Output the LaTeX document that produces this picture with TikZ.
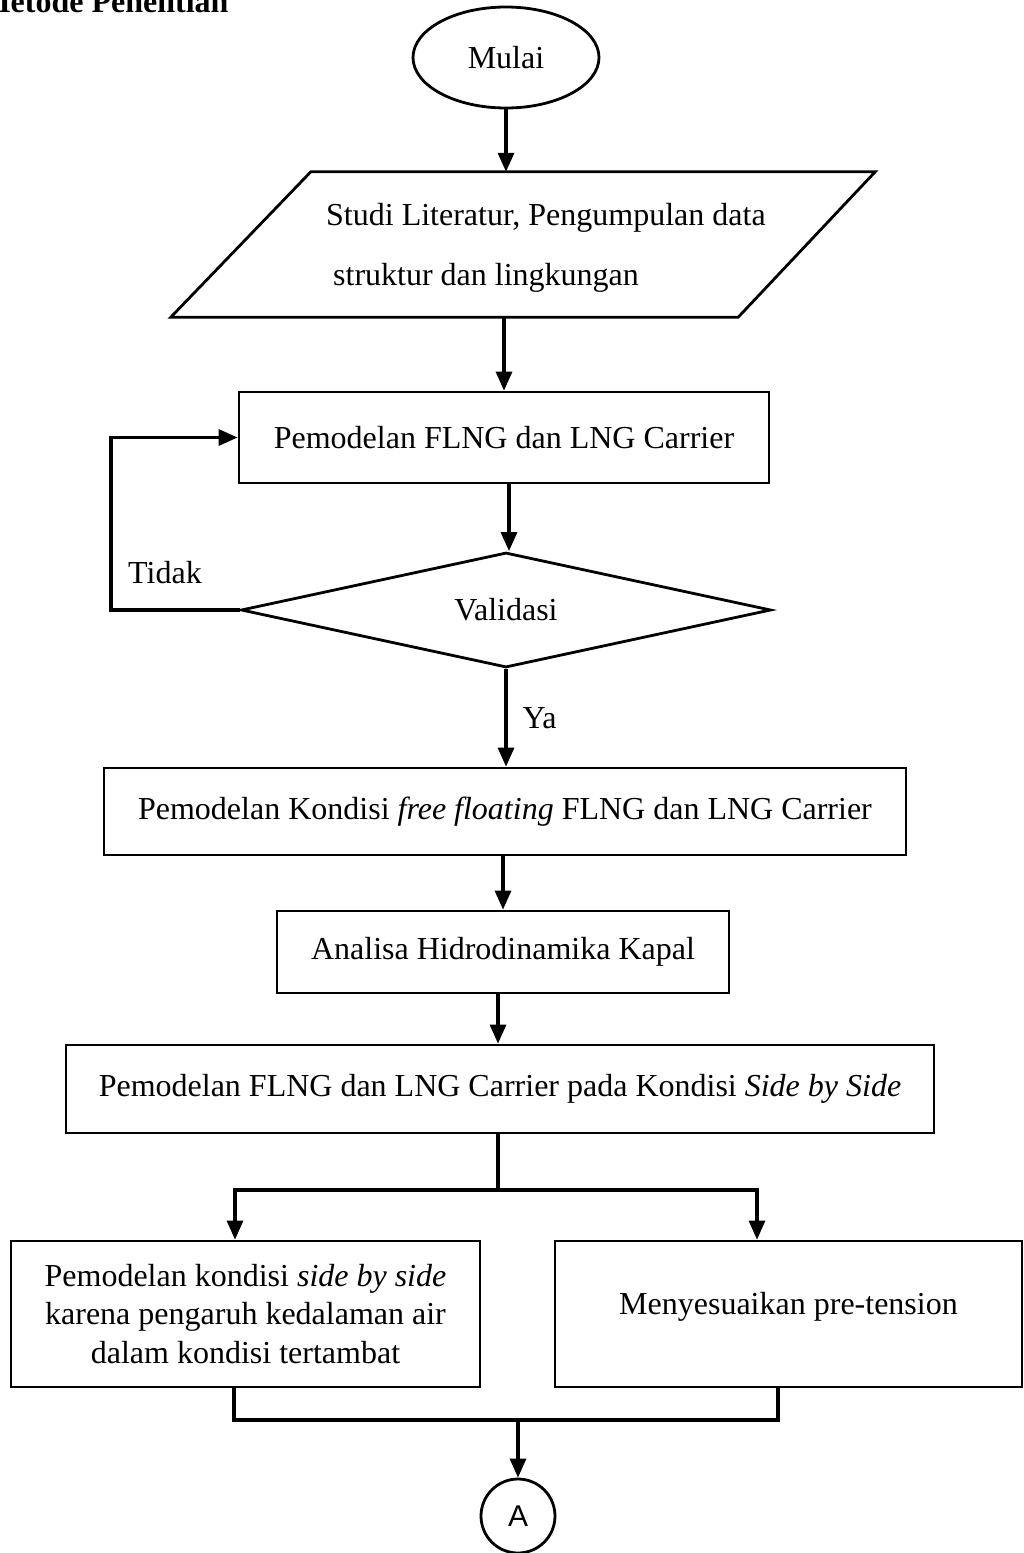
\documentclass[tikz,border=0pt]{standalone}
\usepackage{fontspec}
\setmainfont{Liberation Serif}
\newfontfamily\sansA{Liberation Sans}
\usetikzlibrary{arrows.meta,positioning,calc,shapes.geometric}

\begin{document}
\begin{tikzpicture}[font=\fontsize{32}{38.4}\selectfont, x=1pt, y=-1pt,
  >={Triangle[length=19pt, width=16pt]},
  line/.style={line width=3.2pt},
  box/.style={draw, line width=2.8pt, align=center, inner sep=2pt},
  term/.style={box, ellipse, inner sep=0pt},
  cond/.style={box, diamond, aspect=4.6, inner sep=0pt},
  lbl/.style={anchor=base}]
\useasboundingbox (0,0) rectangle (1023,1553);
\clip (0,0) rectangle (1023,1553);
\node[anchor=base east, font=\fontsize{32}{38.4}\selectfont\bfseries] (judul) at (232,12) {Metode Penelitian};
\node[term, minimum width=186, minimum height=101] (mulai) at (506,57.5) {Mulai};
\node[minimum width=704, minimum height=145, inner sep=0pt] (litbox) at (523,244.5) {};
\draw[line width=2.8pt, line join=miter] (litbox.south west) -- ([xshift=-137pt]litbox.south east)
  -- (litbox.north east) -- ([xshift=140pt]litbox.north west) -- cycle;
\node[anchor=west, align=left, inner sep=0pt, font=\fontsize{32}{60}\selectfont] (lit) at (326,247.5)
  {Studi Literatur, Pengumpulan data\\\hspace*{7pt}struktur dan lingkungan};
\node[box, minimum width=530, minimum height=91] (pem) at (504,437.5) {Pemodelan FLNG dan LNG Carrier};
\node[cond, minimum width=530, minimum height=115] (val) at (506,610) {Validasi};
\node[box, minimum width=802, minimum height=87] (float) at (505,811.5)
  {Pemodelan Kondisi \textit{free floating} FLNG dan LNG Carrier};
\node[box, minimum width=452, minimum height=82] (hidro) at (503,952) {Analisa Hidrodinamika Kapal};
\node[box, minimum width=868, minimum height=88] (sbs) at (500,1089)
  {Pemodelan FLNG dan LNG Carrier pada Kondisi \textit{Side by Side}};
\node[box, minimum width=469, minimum height=146] (kedalaman) at (245.5,1314)
  {Pemodelan kondisi \textit{side by side}\\karena pengaruh kedalaman air\\dalam kondisi tertambat};
\node[box, minimum width=467, minimum height=146, text depth=21pt] (pretension) at (788.5,1314) {Menyesuaikan pre-tension};
\node[box, circle, minimum size=74, inner sep=0pt, font=\sansA\fontsize{30}{34}\selectfont] (A) at (518,1516) {A};
% connectors
\coordinate (back) at (111,610);
\coordinate (split) at (498,1190);
\coordinate (bl) at (235,1190);
\coordinate (br) at (757,1190);
\coordinate (ml) at (234,1420);
\coordinate (mr) at (778,1420);
\draw[line, ->] (mulai.south) -- (mulai.south |- litbox.north);
\draw[line, ->] (litbox.south -| pem) -- (pem.north);
\draw[line, ->] ([xshift=5pt]pem.south) -- ([xshift=3pt]val.north);
\draw[line, ->] (val.west) -- (back) |- (pem.west);
\draw[line, ->] (val.south) -- (float.north -| val.south);
\draw[line, ->] (float.south -| hidro) -- (hidro.north);
\draw[line, ->] (hidro.south -| split) -- (sbs.north -| split);
\draw[line] (sbs.south -| split) -- (split);
\draw[line, ->] (split) -- (bl) -- (bl |- kedalaman.north);
\draw[line, ->] (split) -- (br) -- (br |- pretension.north);
\draw[line] (ml |- kedalaman.south) -- (ml) -- (mr) -- (mr |- pretension.south);
\draw[line, ->] (ml -| A) -- (A.north);
\node[lbl] (tidak) at (165,583) {Tidak};
\node[lbl, anchor=base west] (ya) at (519,728) {Ya};
\end{tikzpicture}
\end{document}
